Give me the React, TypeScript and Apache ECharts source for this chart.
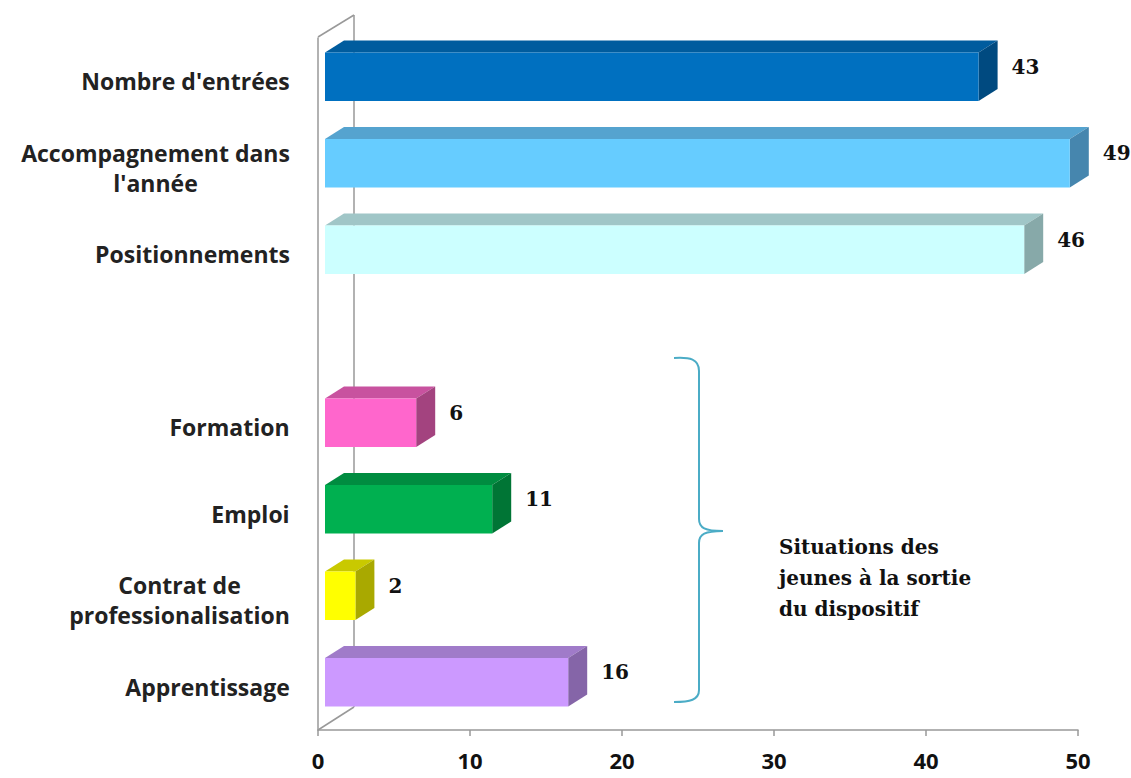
import React, { useEffect, useRef } from "react";
import * as echarts from "echarts";

const categories = [
  "Nombre d'entrées",
  "Accompagnement dans\nl'année",
  "Positionnements",
  "",
  "Formation",
  "Emploi",
  "Contrat de\nprofessionalisation",
  "Apprentissage",
];
const values: (number | null)[] = [43, 49, 46, null, 6, 11, 2, 16];
const frontColors = ["#0070C0", "#66CCFF", "#CCFFFF", "", "#FF66CC", "#00B050", "#FFFF00", "#CC99FF"];
const topColors = ["#005C9E", "#55A3CF", "#A0C6C7", "", "#C8529F", "#008C40", "#C9C900", "#A07BC9"];
const sideColors = ["#004A80", "#4686AE", "#87A9A9", "", "#A3437F", "#007535", "#A9A900", "#8565A8"];
const xTicks = { min: 0, max: 50, interval: 10 };
const noteLines = ["Situations des", "jeunes à la sortie", "du dispositif"];

const GRID_LEFT = 318;
const GRID_TOP = 38;
const GRID_BOTTOM_Y = 730;
const W = 1131;
const H = 778;
const Y_SIZE = 23;
const Y_FONT = `bold ${Y_SIZE}px 'Open Sans'`;

export default function App() {
  const ref = useRef<HTMLDivElement>(null);
  useEffect(() => {
    if (!ref.current) return;
    echarts.graphic.registerShape(
      "brace",
      echarts.graphic.extendPath(
        "M674,358 C690,357 699,359 699,371 L699,519 C699,528 705,531 723,531 C705,531 699,534 699,543 L699,690 C699,700 690,702 674,702",
        {}
      )
    );
    const ctx = document.createElement("canvas").getContext("2d")!;
    ctx.font = Y_FONT;
    const rich: Record<string, any> = {};
    const labelMap: Record<string, string> = {};
    categories.forEach((c, i) => {
      const lines = c.split("\n");
      const wmax = Math.ceil(Math.max(...lines.map((l) => ctx.measureText(l).width))) + 2;
      const key = "c" + i;
      rich[key] = {
        width: wmax,
        align: "center",
        fontFamily: "Open Sans",
        fontWeight: "bold",
        fontSize: Y_SIZE,
        lineHeight: 30,
        color: "#222",
      };
      labelMap[c] = lines.map((l) => `{${key}|${l}}`).join("\n");
    });

    const chart = echarts.init(ref.current, null, { renderer: "svg" });
    const data = values
      .map((v, i) => (v == null ? null : [v, i]))
      .filter((d) => d != null);
    const ox = 19;
    const oy = -12;
    const dx = 7;
    const dy = -4.5;
    chart.setOption({
      animation: false,
      backgroundColor: "#fff",
      grid: {
        left: GRID_LEFT,
        right: W - 1078,
        top: GRID_TOP,
        bottom: H - GRID_BOTTOM_Y,
        containLabel: false,
      },
      xAxis: {
        type: "value",
        min: xTicks.min,
        max: xTicks.max,
        interval: xTicks.interval,
        axisLine: { show: true, lineStyle: { color: "#999", width: 1.5 } },
        axisTick: { show: true, length: 6, lineStyle: { color: "#999", width: 1.5 } },
        splitLine: { show: false },
        axisLabel: {
          fontFamily: "Open Sans",
          fontWeight: "bold",
          fontSize: 22,
          color: "#111",
          margin: 19,
        },
      },
      yAxis: {
        type: "category",
        inverse: true,
        data: categories,
        axisLine: { show: true, lineStyle: { color: "#999", width: 1.5 } },
        axisTick: { show: false },
        axisLabel: {
          fontFamily: "Open Sans",
          fontWeight: "bold",
          fontSize: Y_SIZE,
          color: "#222",
          margin: 27,
          lineHeight: 30,
          align: "right",
          formatter: (v: string) => labelMap[v] ?? v,
          rich: rich,
        },
      },
      series: [
        {
          type: "custom",
          data: data,
          encode: { x: 0, y: 1 },
          renderItem: (params: any, api: any) => {
            const v = api.value(0);
            const idx = api.value(1);
            const p0 = api.coord([0, idx]);
            const p1 = api.coord([v, idx]);
            const band = api.size([0, 1])[1];
            const h = band * 0.56;
            const x0 = p0[0] + dx;
            const x1 = p1[0] + dx;
            const top = p1[1] + dy - h / 2;
            return {
              type: "group",
              children: [
                {
                  type: "polygon",
                  shape: { points: [[x0, top], [x0 + ox, top + oy], [x1 + ox, top + oy], [x1, top]] },
                  style: { fill: topColors[idx] },
                },
                {
                  type: "polygon",
                  shape: { points: [[x1, top], [x1 + ox, top + oy], [x1 + ox, top + oy + h], [x1, top + h]] },
                  style: { fill: sideColors[idx] },
                },
                {
                  type: "rect",
                  shape: { x: x0, y: top, width: x1 - x0, height: h },
                  style: { fill: frontColors[idx] },
                },
                {
                  type: "text",
                  x: x1 + ox + 14,
                  y: top + h / 2 - 10,
                  style: {
                    text: String(v),
                    fontFamily: "DejaVu Serif",
                    fontWeight: "bold",
                    fontSize: 20,
                    fill: "#111",
                    align: "left",
                    verticalAlign: "middle",
                  },
                },
              ],
            };
          },
        },
      ],
      graphic: [
        {
          type: "line",
          shape: { x1: GRID_LEFT + 36, y1: 15, x2: GRID_LEFT + 36, y2: 707 },
          style: { stroke: "#999", lineWidth: 1.5 },
          z: 0,
        },
        {
          type: "line",
          shape: { x1: GRID_LEFT, y1: GRID_TOP - 1, x2: GRID_LEFT + 36, y2: 15 },
          style: { stroke: "#999", lineWidth: 1.5 },
          z: 0,
        },
        {
          type: "line",
          shape: { x1: GRID_LEFT, y1: GRID_BOTTOM_Y, x2: GRID_LEFT + 36, y2: 707 },
          style: { stroke: "#999", lineWidth: 1.5 },
          z: 0,
        },
        {
          type: "brace",
          x: 0,
          y: 0,
          style: { stroke: "#4BACC6", lineWidth: 2, fill: "none" },
        },
        {
          type: "text",
          left: 779,
          top: 531,
          style: {
            text: noteLines.join("\n"),
            fontFamily: "DejaVu Serif",
            fontWeight: "bold",
            fontSize: 20,
            lineHeight: 31,
            fill: "#111",
          },
        },
      ],
    });
    return () => chart.dispose();
  }, []);
  return (
    <div
      ref={ref}
      style={{ position: "absolute", left: 0, top: 0, width: W, height: H }}
    />
  );
}
